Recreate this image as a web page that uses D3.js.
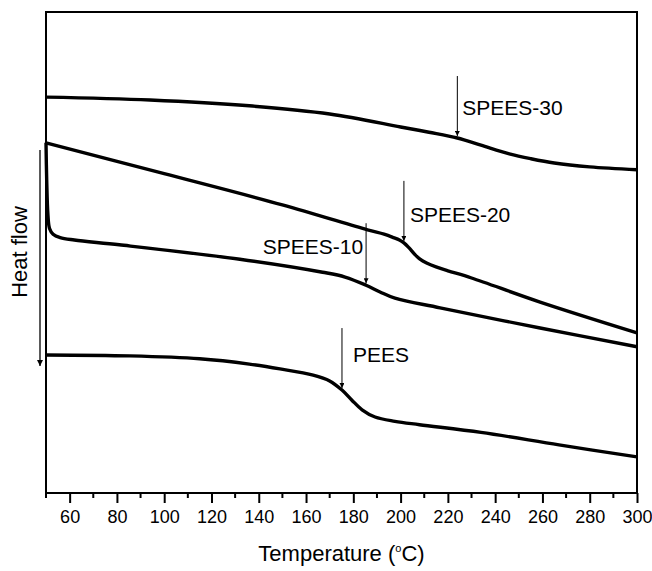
<!DOCTYPE html>
<html>
<head>
<meta charset="utf-8">
<script src="https://cdn.jsdelivr.net/npm/d3@7"></script>
<style>
  body { margin: 0; background: #fff; }
  text { font-family: "Liberation Sans", Arial, sans-serif; fill: #000; }
</style>
</head>
<body>
<div id="chart"></div>
<script>
// DSC curves, heat flow in arbitrary units
const spees30 = [[50, 82.3], [94, 81.7], [136, 80.5], [170, 78.8], [200, 76.1], [212, 75.0],
  [224, 73.8], [234, 72.3], [246, 70.5], [255, 69.5], [265, 68.6], [280, 67.8], [300, 67.2]];
const spees20 = [[50, 72.8], [100, 66.4], [150, 59.9], [186, 54.7], [193, 53.8], [197, 53.1],
  [199.5, 52.6], [201.4, 52.0], [203.5, 51.0], [206, 49.6], [208.2, 48.6], [211, 47.8],
  [215, 47.0], [220, 46.2], [230, 44.7], [259, 39.7], [300, 33.3]];
const spees10 = [[50, 72.8], [50.3, 65.0], [50.8, 58.0], [51.5, 55.0], [53, 53.8], [56, 53.1],
  [62, 52.6], [81, 51.6], [132, 48.6], [167, 45.9], [176.5, 44.9], [185.4, 43.2], [191.3, 41.8],
  [197.6, 40.5], [216.7, 38.5], [259, 34.3], [300, 30.4]];
const pees = [[50, 28.7], [85.5, 28.5], [115, 27.9], [136, 26.8], [149, 25.8], [163, 24.5],
  [170, 23.3], [175.2, 21.4], [179.4, 19.3], [183.7, 17.3], [189.2, 15.8], [197.6, 14.9],
  [208, 14.2], [234, 12.6], [267, 10.0], [300, 7.5]];

const seriesNames = ["SPEES-30", "SPEES-20", "SPEES-10", "PEES"];
const tgValues = [224, 201.4, 185.4, 175.2];
const xTicks = d3.range(60, 301, 20);

const width = 652, height = 571;
const margin = {top: 12, right: 15, bottom: 78, left: 46};

const svg = d3.select("#chart").append("svg")
  .attr("width", width)
  .attr("height", height);

const x = d3.scaleLinear().domain([50, 300]).range([margin.left, width - margin.right]);
const y = d3.scaleLinear().domain([0, 100]).range([height - margin.bottom, margin.top]);

// curves
const line = d3.line()
  .x(d => x(d[0]))
  .y(d => y(d[1]))
  .curve(d3.curveCatmullRom.alpha(0.5));

const allSeries = [spees30, spees20, spees10, pees];
svg.selectAll("path.curve")
  .data(allSeries)
  .enter()
  .append("path")
  .attr("class", "curve")
  .attr("d", line)
  .attr("fill", "none")
  .attr("stroke", "#000")
  .attr("stroke-width", 3.4)
  .attr("stroke-linejoin", "round");

// frame
svg.append("rect")
  .attr("x", margin.left)
  .attr("y", margin.top)
  .attr("width", width - margin.left - margin.right)
  .attr("height", height - margin.top - margin.bottom)
  .attr("fill", "none")
  .attr("stroke", "#000")
  .attr("stroke-width", 2);

// x axis, major + minor ticks
const xAxis = svg.append("g")
  .attr("transform", `translate(0,${height - margin.bottom})`)
  .call(d3.axisBottom(x).tickValues(xTicks).tickSize(10).tickPadding(7).tickSizeOuter(0));
xAxis.select(".domain").remove();
xAxis.selectAll(".tick line").attr("stroke-width", 2);
xAxis.selectAll("text")
  .style("font-family", "'Liberation Sans', Arial, sans-serif")
  .style("font-size", "18px")
  .attr("fill", "#000");

svg.append("g")
  .attr("transform", `translate(0,${height - margin.bottom})`)
  .selectAll("line")
  .data(d3.range(50, 300, 20))
  .enter()
  .append("line")
  .attr("x1", d => x(d))
  .attr("x2", d => x(d))
  .attr("y1", 0)
  .attr("y2", 5)
  .attr("stroke", "#000")
  .attr("stroke-width", 2);

// axis titles
const title = svg.append("text")
  .attr("x", (margin.left + width - margin.right) / 2)
  .attr("y", 561)
  .attr("text-anchor", "middle")
  .style("font-size", "22px");
title.append("tspan").text("Temperature (");
title.append("tspan").text("o").attr("dy", -9).style("font-size", "11px");
title.append("tspan").text("C)").attr("dy", 9);

svg.append("text")
  .attr("transform", "translate(27,252) rotate(-90)")
  .attr("text-anchor", "middle")
  .style("font-size", "22px")
  .text("Heat flow");

// arrowheads
const defs = svg.append("defs");
defs.append("marker")
  .attr("id", "head")
  .attr("viewBox", "0 0 10 10")
  .attr("refX", 10).attr("refY", 5)
  .attr("markerWidth", 8).attr("markerHeight", 5)
  .attr("markerUnits", "userSpaceOnUse")
  .attr("orient", "auto")
  .append("path")
  .attr("d", "M0,0L10,5L0,10Z")
  .attr("fill", "#000");
defs.append("marker")
  .attr("id", "bighead")
  .attr("viewBox", "0 0 10 10")
  .attr("refX", 10).attr("refY", 5)
  .attr("markerWidth", 10).attr("markerHeight", 6)
  .attr("markerUnits", "userSpaceOnUse")
  .attr("orient", "auto")
  .append("path")
  .attr("d", "M0,0L10,5L0,10Z")
  .attr("fill", "#000");

svg.append("line")
  .attr("x1", 40).attr("x2", 40)
  .attr("y1", 150).attr("y2", 366)
  .attr("stroke", "#000")
  .attr("stroke-width", 1.3)
  .attr("marker-end", "url(#bighead)");

// Tg annotations
function valueAt(series, t) {
  for (let i = 1; i < series.length; i++) {
    if (series[i][0] >= t) {
      const [x0, y0] = series[i - 1], [x1, y1] = series[i];
      return y0 + (y1 - y0) * (t - x0) / (x1 - x0);
    }
  }
  return series[series.length - 1][1];
}

const labelPlace = [
  {dx: 5, dy: -28, anchor: "start"},
  {dx: 6, dy: -26, anchor: "start"},
  {dx: -3, dy: -37, anchor: "end"},
  {dx: 11, dy: -33, anchor: "start"}
];

seriesNames.forEach((name, i) => {
  const tx = x(tgValues[i]);
  const ty = y(valueAt(allSeries[i], tgValues[i])) - 2;
  svg.append("line")
    .attr("x1", tx).attr("x2", tx)
    .attr("y1", ty - 60).attr("y2", ty)
    .attr("stroke", "#000")
    .attr("stroke-width", 1)
    .attr("marker-end", "url(#head)");
  svg.append("text")
    .attr("x", tx + labelPlace[i].dx)
    .attr("y", ty + labelPlace[i].dy)
    .attr("dy", "0.35em")
    .attr("text-anchor", labelPlace[i].anchor)
    .style("font-size", "21px")
    .text(name);
});
</script>
</body>
</html>
